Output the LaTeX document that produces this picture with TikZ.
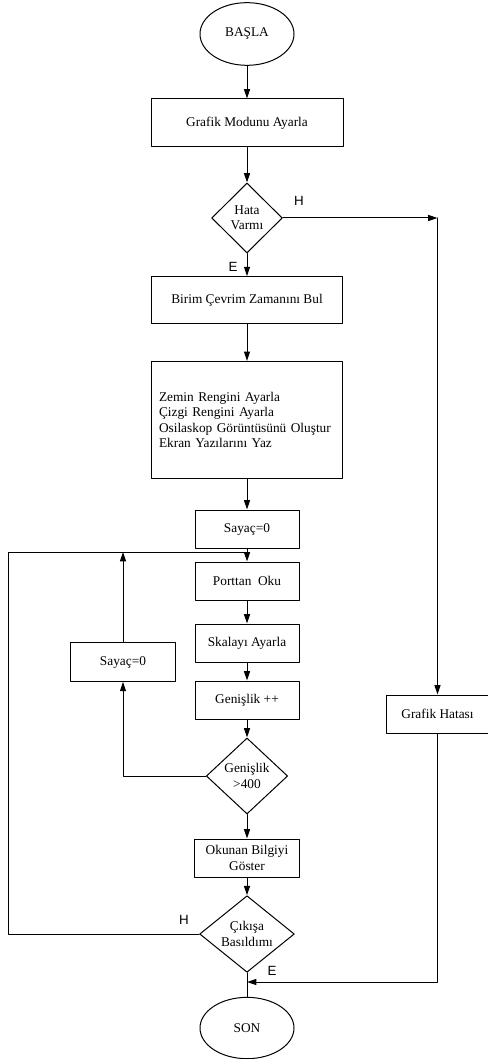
\documentclass[tikz,border=0pt]{standalone}
\usepackage{fontspec}
\setmainfont{Liberation Serif}
\newfontfamily\harffont{Liberation Sans}
\usetikzlibrary{shapes.geometric,arrows.meta}
\begin{document}
\begin{tikzpicture}[font=\fontsize{10}{11.5}\selectfont, line join=round, line cap=round,
		>={Triangle[length=7pt,width=4.5pt]}, x=0.75pt, y=-0.75pt, line width=0.75pt,
		kutu/.style={draw, rectangle, inner sep=2pt, align=center},
		karar/.style={draw, diamond, inner sep=0pt, align=center},
		uc/.style={draw, ellipse, inner sep=0pt},
		harf/.style={font=\harffont\fontsize{10}{12}\selectfont}]
			\useasboundingbox (0,0) rectangle (488,1059);
			\node[uc, minimum width=70.5pt, minimum height=47pt] (basla) at (247,34) {BAŞLA};
			\node[kutu, minimum width=144pt, minimum height=36pt] (grafik) at (247,123) {Grafik Modunu Ayarla};
			\node[karar, minimum width=53pt, minimum height=52.5pt] (hata) at (247,218) {Hata\\Varmı};
			\node[kutu, minimum width=143pt, minimum height=35pt] (birim) at (247,300) {Birim Çevrim Zamanını Bul};
			\node[kutu, text width=132pt, inner xsep=5.5pt, minimum height=88pt, align=left] (ekran) at (247,420)
				{Zemin Rengini Ayarla\\Çizgi Rengini Ayarla\\Osilaskop Görüntüsünü Oluştur\\Ekran Yazılarını Yaz};
			\node[kutu, minimum width=78pt, minimum height=28.5pt] (sayac) at (247,529) {Sayaç=0};
			\node[kutu, minimum width=78pt, minimum height=28.5pt] (porttan) at (247,581) {Porttan\ \ Oku};
			\node[kutu, minimum width=78pt, minimum height=28.5pt] (skala) at (247,643) {Skalayı Ayarla};
			\node[kutu, minimum width=78pt, minimum height=28.5pt] (genislik) at (247,700) {Genişlik ++};
			\node[kutu, minimum width=79pt, minimum height=29pt] (sayac2) at (123,662) {Sayaç=0};
			\node[karar, minimum width=61pt, minimum height=57pt] (gen400) at (247,776) {Genişlik\\>400};
			\node[kutu, minimum width=79pt, minimum height=28.5pt] (okunan) at (247,858) {Okunan Bilgiyi\\Göster};
			\node[karar, minimum width=71pt, minimum height=53pt] (cikis) at (247,934) {Çıkışa\\Basıldımı};
			\node[uc, minimum width=70.5pt, minimum height=46pt] (son) at (247,1028) {SON};
			\node[kutu, minimum width=76.5pt, minimum height=28.5pt] (hatasi) at (437.5,714) {Grafik Hatası};
			\coordinate (hk) at (437.5,218);
			\coordinate (dugum) at (247,552);
			\coordinate (sol) at (8,552);
			\coordinate (alt) at (247,982);
			\foreach \a/\b in {basla/grafik,grafik/hata,hata/birim,birim/ekran,ekran/sayac,sayac/porttan,porttan/skala,skala/genislik,genislik/gen400,gen400/okunan,okunan/cikis}{\draw[->] (\a) -- (\b);}
			\draw[->] (hata) -- (hk);
			\draw[->] (hk) -- (hatasi);
			\draw[->] (hatasi) |- (alt);
			\draw (cikis) -- (son);
			\draw[->] (gen400) -| (sayac2);
			\draw[->] (sayac2) -- (sayac2 |- dugum);
			\draw (cikis) -| (sol) -- (dugum);
			\foreach \x/\y/\l in {299/201/H,233/267/E,184/920/H,272/971/E}{\node[harf] (etiket\x) at (\x,\y) {\l};}
	\end{tikzpicture}
\end{document}
